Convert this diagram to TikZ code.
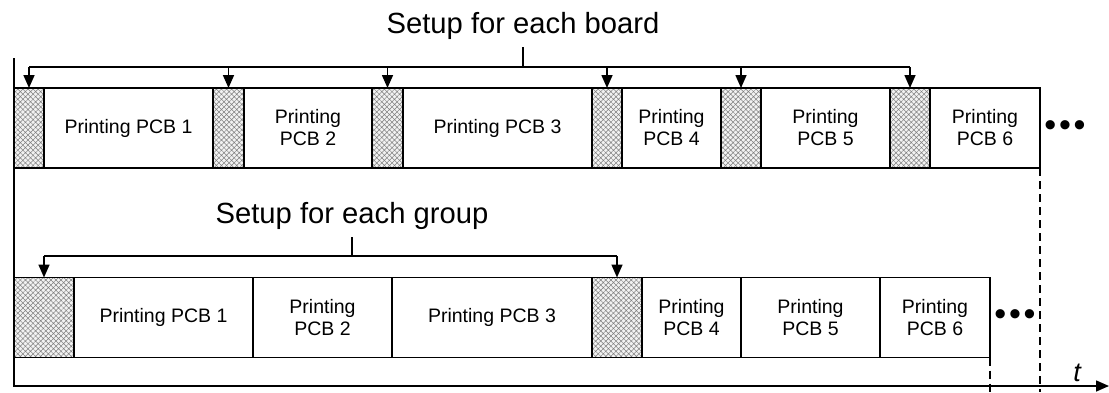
\documentclass[tikz,border=0pt]{standalone}
\usepackage{fontspec}
\setmainfont{Liberation Sans}
\usetikzlibrary{arrows.meta,patterns.meta,calc}
\tikzset{
  pcb/.style   ={draw, line width=0.8pt, outer sep=0pt, inner sep=0pt,
                 minimum height=40pt, align=center,
                 font=\fontsize{9.75}{11}\selectfont},
  setup/.style ={pcb, preaction={fill=black!5},
                 pattern={Hatch[angle=45,distance=1.8pt,line width=0.25pt]},
                 pattern color=black!50},
  ar/.style    ={-{Triangle[length=6.5pt,width=5.5pt]}, line width=0.8pt},
  bar/.style   ={line width=0.8pt},
  head/.style  ={font=\fontsize{14.6}{17}\selectfont, inner sep=0pt,
                 outer sep=4pt},
  more/.style  ={font=\fontsize{17}{17}\selectfont, inner sep=0pt},
  cut/.style   ={line width=0.8pt, dash pattern=on 4pt off 2.5pt}
}

\begin{document}
\begin{tikzpicture}[x=0.5pt, y=-0.5pt]
\useasboundingbox (0,0) rectangle (1109,392);

% one setup per board
\foreach \a/\b/\n in {14/44/s1, 213/244/s2, 372/403/s3, 592/622/s4,
                      721/761/s5, 890/930/s6}
  \node[setup, minimum width={(\b-\a)*0.5pt}] (a\n) at ({(\a+\b)/2},128) {};
\foreach \a/\b/\n/\t in {44/213/p1/{Printing PCB 1}, 244/372/p2/{Printing\\PCB 2},
                         403/592/p3/{Printing PCB 3}, 622/721/p4/{Printing\\PCB 4},
                         761/890/p5/{Printing\\PCB 5}, 930/1040/p6/{Printing\\PCB 6}}
  \node[pcb, minimum width={(\b-\a)*0.5pt}] (a\n) at ({(\a+\b)/2},128) {\t};
\node[more] (dots1) at (1065,129) {•\kern1.4pt•\kern1.4pt•};

\node[head, anchor=base] (board) at (523,33) {Setup for each board};
\coordinate (bar1) at (523,67);
\draw[bar] (board.south) -- (bar1);
\draw[bar] (as1.north |- bar1) -- (as6.north |- bar1);
\foreach \n in {s1,s2,s3,s4,s5,s6}
  \draw[ar] (a\n.north |- bar1) -- (a\n.north);

% one setup per group
\foreach \a/\b/\n in {14/74/s1, 592/642/s2}
  \node[setup, minimum width={(\b-\a)*0.5pt}] (b\n) at ({(\a+\b)/2},317.5) {};
\foreach \a/\b/\n/\t in {74/253/p1/{Printing PCB 1}, 253/392/p2/{Printing\\PCB 2},
                         392/592/p3/{Printing PCB 3}, 642/741/p4/{Printing\\PCB 4},
                         741/880/p5/{Printing\\PCB 5}, 880/990/p6/{Printing\\PCB 6}}
  \node[pcb, minimum width={(\b-\a)*0.5pt}] (b\n) at ({(\a+\b)/2},317.5) {\t};
\node[more] (dots2) at (1015,317.5) {•\kern1.4pt•\kern1.4pt•};

\node[head, anchor=base] (group) at (352,223) {Setup for each group};
\coordinate (bar2) at (352,256);
\draw[bar] (group.south) -- (bar2);
\draw[bar] (bs1.north |- bar2) -- (bs2.north |- bar2);
\foreach \n in {s1,s2}
  \draw[ar] (b\n.north |- bar2) -- (b\n.north);

% time axis
\coordinate (top) at (14,58);
\coordinate (origin) at (14,386);
\coordinate (tend) at (1109,386);
\coordinate (floor) at (0,392);
\draw[ar] (top) -- (origin) -- (tend);
\node[anchor=base, font=\itshape\fontsize{13.5}{13.5}\selectfont, inner sep=0pt]
  (t) at (1077,381) {t};
\draw[cut] (ap6.south east) -- (ap6.south east |- floor);
\draw[cut] (bp6.south east) -- (bp6.south east |- floor);
\end{tikzpicture}
\end{document}
